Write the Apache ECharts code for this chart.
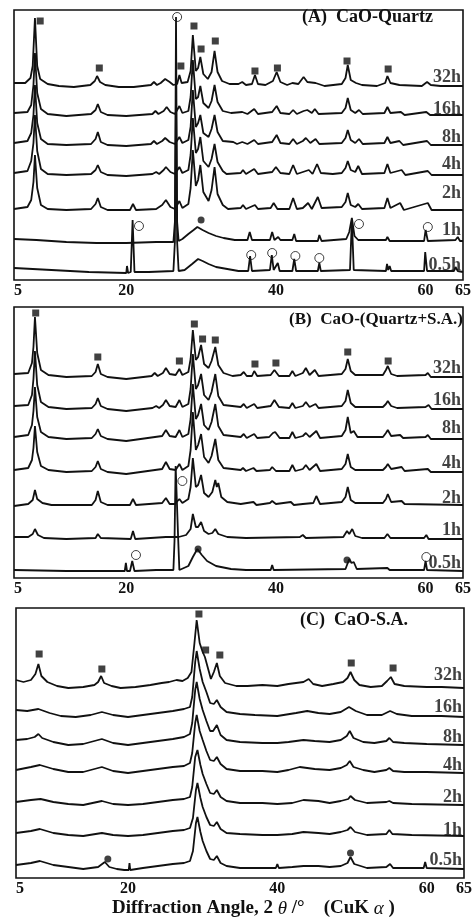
<!DOCTYPE html>
<html>
<head>
<meta charset="utf-8">
<script src="https://cdn.jsdelivr.net/npm/echarts@6/dist/echarts.min.js"></script>
<style>
  html, body { margin: 0; padding: 0; background: #fff; }
  #xrd { width: 475px; height: 918px; }
</style>
</head>
<body>
<div id="xrd"></div>
<script>
// reaction times, top trace first
const hours = ['32h', '16h', '8h', '4h', '2h', '1h', '0.5h'];
const tickValues = [5, 20, 40, 60, 65];

// (A) CaO-Quartz : [2theta, intensity above own baseline]
const a32 = [[5,3],[6.5,3],[7.2,8],[7.5,20],[7.8,68],[8.1,20],[8.5,7],[9.5,2],[11,0],[13,-1],[15.2,1],[15.8,5],[16.1,10],[16.5,4],[17.2,1],[19,-1],[21,-1],[23.3,1],[23.7,4],[24.1,1],[24.6,3],[25.2,7],[25.8,4],[26.3,1],[26.8,2],[27.1,11],[27.4,3],[28.2,4],[28.6,15],[28.9,51],[29.3,15],[29.6,18],[29.9,29],[30.3,12],[30.9,7],[31.4,14],[31.8,35],[32.2,14],[32.8,5],[33.8,2],[35,2],[35.5,4],[36,1],[36.8,2],[37.2,11],[37.6,2],[38.6,1],[39.6,5],[40.1,14],[40.6,4],[41.5,1],[42.2,3],[43,2],[43.7,9],[44.2,4],[45.3,3],[46.5,0],[48.8,2],[49.3,8],[49.6,21],[50,6],[50.7,3],[51.5,1],[53.5,0],[54.6,3],[54.9,10],[55.3,3],[56.5,1],[59.5,0],[60.2,4],[60.7,1],[62,0],[65,0]];
const a16 = [[5,2],[6.8,3],[7.3,10],[7.6,30],[7.8,62],[8.1,22],[8.6,6],[9.5,1],[12,-1],[15.3,1],[15.9,5],[16.2,11],[16.6,3],[17.5,0],[20,-1],[23.5,1],[23.9,4],[24.3,1],[25,4],[25.4,8],[25.9,3],[26.5,1],[27.1,9],[27.5,2],[28.3,4],[28.6,18],[28.9,55],[29.3,16],[29.6,18],[29.9,29],[30.3,12],[31,7],[31.4,14],[31.8,30],[32.2,13],[32.9,4],[34,2],[35.5,3],[36.2,1],[37.1,6],[37.6,1],[39.5,3],[40.1,9],[40.6,2],[41.8,1],[42.3,5],[42.8,1],[43.7,4],[44.2,5],[44.8,2],[45.2,6],[45.7,1],[48.8,2],[49.3,7],[49.6,17],[50,5],[50.6,2],[51.1,5],[51.6,1],[54.5,2],[54.9,8],[55.3,2],[56.7,3],[57.2,0],[60.1,3],[60.6,0],[65,0]];
const a8 = [[5,2],[6.8,4],[7.3,12],[7.6,30],[7.8,60],[8.1,22],[8.6,6],[9.5,1],[12,0],[15.3,1],[15.9,6],[16.2,13],[16.6,3],[17.5,0],[20,-1],[23.3,1],[23.7,4],[24.1,1],[24.8,4],[25.2,7],[25.8,3],[26.5,1],[27.1,8],[27.5,2],[28.3,5],[28.6,18],[28.9,55],[29.3,18],[29.6,22],[29.9,30],[30.3,12],[31,8],[31.4,16],[31.8,30],[32.2,13],[32.9,4],[34.3,3],[34.8,1],[35.5,3],[36.2,1],[37.1,5],[37.6,1],[39.5,3],[40.1,10],[40.6,2],[41.8,1],[42.3,6],[42.8,1],[43.6,4],[44,7],[44.6,2],[45.3,6],[45.8,1],[48.8,2],[49.3,7],[49.6,15],[50,5],[50.6,2],[51.1,6],[51.6,1],[54.5,2],[54.9,8],[55.3,2],[56.5,4],[57,0],[60.2,4],[60.7,0],[65,0]];
const a4 = [[5,2],[6.8,4],[7.3,14],[7.6,32],[7.8,60],[8.1,24],[8.6,6],[9.5,1],[12,0],[15.3,1],[15.9,5],[16.2,10],[16.6,3],[17.5,0],[20,-1],[23.5,1],[24,3],[24.4,1],[25,5],[25.3,8],[25.9,3],[26.5,1],[27.1,8],[27.5,2],[28.3,5],[28.6,20],[28.9,57],[29.3,22],[29.6,26],[29.9,38],[30.3,14],[31,8],[31.4,16],[31.8,31],[32.2,13],[32.9,4],[33.4,1],[35.3,2],[35.6,5],[36,1],[37.1,6],[37.6,1],[39.5,3],[40,8],[40.6,2],[41.8,1],[42.3,10],[42.8,1],[43.6,3],[44.4,5],[44.9,1],[45.5,11],[46,2],[47.6,1],[48.8,2],[49.3,7],[49.6,14],[50,5],[50.6,3],[51,9],[51.5,1],[54.5,2],[54.9,11],[55.3,2],[56.8,5],[57.3,0],[60.3,4],[60.8,0],[65,0]];
const a2 = [[5,1],[6.8,3],[7.3,10],[7.6,28],[7.8,55],[8.1,22],[8.6,5],[9.5,1],[12,0],[15.3,1],[15.9,6],[16.2,12],[16.6,3],[17.5,0],[20.5,0],[20.9,6],[21.3,0],[24,1],[24.8,5],[25.3,10],[25.9,3],[26.5,1],[27.1,9],[27.5,2],[28.3,6],[28.6,22],[28.9,60],[29.3,24],[29.6,30],[29.9,45],[30.3,18],[31,9],[31.4,20],[31.8,43],[32.2,16],[32.9,5],[33.6,1],[35.3,2],[35.6,5],[36,1],[37.2,5],[37.6,1],[39.3,2],[39.7,7],[40.2,1],[41.8,1],[42.3,12],[42.8,1],[43.6,2],[44.3,7],[44.8,1],[45.6,13],[46.1,2],[48.8,3],[49.3,8],[49.6,17],[50,5],[50.6,3],[51,6],[51.5,1],[54.5,2],[54.9,12],[55.3,2],[56.6,7],[57.1,0],[60.3,7],[60.8,0],[65,0]];
const a1 = [[5,3],[8,2],[12,0],[16,-1],[20,-1],[24,0],[26.3,0],[26.5,20],[26.65,150],[26.8,20],[27,1],[27.5,3],[28.3,8],[29,12],[29.5,15],[30.2,12],[31,9],[32,6],[33,4],[34.5,2],[36.2,2],[36.5,10],[36.8,2],[39.2,2],[39.5,10],[39.8,2],[40.3,5],[40.6,2],[42.2,2],[42.45,8],[42.7,1],[45.6,1],[45.8,7],[46.1,1],[49.4,3],[49.8,10],[50.15,24],[50.5,6],[51,2],[54.7,2],[54.9,5],[55.2,1],[59.8,1],[60,12],[60.3,1],[64,2],[64.3,5],[64.6,1],[65,1]];
const a05 = [[5,4],[10,2],[15,0],[20,-1],[20.1,6],[20.25,-1],[20.6,0],[20.85,52],[21.1,0],[23,0],[26.3,1],[26.5,30],[26.65,255],[26.8,30],[27,1],[27.8,2],[28.8,8],[29.6,13],[30.2,11],[31,8],[32,5],[33.5,3],[35,1],[36.3,1],[36.55,16],[36.8,1],[39.2,2],[39.45,17],[39.7,2],[40.25,9],[40.5,1],[42.2,1],[42.45,13],[42.7,1],[45.6,1],[45.8,9],[46,1],[49.9,2],[50.15,52],[50.4,2],[54.7,1],[54.85,8],[55,2],[55.2,6],[55.4,1],[59.8,1],[59.95,20],[60.2,1],[63.8,1],[64,5],[64.3,1],[65,0]];
const offsetsA = [194, 165, 135, 105, 70, 38, 8];

// (B) CaO-(Quartz+S.A.)
const b32 = [[5,3],[6.9,4],[7.4,14],[7.6,30],[7.8,60],[8.1,24],[8.6,7],[9.6,2],[12,0],[15.4,1],[15.9,5],[16.2,13],[16.6,3],[17.5,0],[20,-2],[23.4,1],[23.8,4],[24.2,1],[24.9,4],[25.3,9],[25.8,3],[26.6,2],[27.1,8],[27.5,2],[28.3,5],[28.6,18],[28.9,47],[29.3,17],[29.6,20],[30,32],[30.4,13],[31,9],[31.4,16],[31.9,30],[32.3,12],[33,4],[34.2,1],[35.3,2],[35.7,5],[36.1,1],[36.8,1],[37.1,6],[37.5,1],[39.3,2],[39.8,7],[40.4,1],[41.8,1],[42.2,6],[42.6,1],[43.6,4],[44,9],[44.5,2],[45.2,7],[45.7,1],[48.8,3],[49.3,8],[49.6,18],[50,6],[50.6,2],[54.3,2],[54.7,7],[54.95,11],[55.4,3],[56.2,1],[60,2],[60.3,4],[60.7,0],[65,0]];
const b16 = [[5,3],[6.9,4],[7.4,14],[7.6,30],[7.8,58],[8.1,24],[8.6,7],[9.6,2],[12,0],[15.4,1],[15.9,5],[16.2,11],[16.6,3],[17.5,0],[20,-2],[23.5,1],[24,3],[24.4,1],[24.9,4],[25.3,9],[25.8,3],[26.6,2],[27.1,9],[27.5,2],[28.3,5],[28.6,20],[28.9,55],[29.3,20],[29.6,24],[30,35],[30.4,14],[31,9],[31.4,17],[31.9,35],[32.3,13],[33,4],[35.3,2],[35.7,5],[36.1,1],[37.1,5],[37.5,1],[39.3,3],[39.8,9],[40.4,2],[41.8,1],[42.2,6],[42.6,1],[43.6,3],[44,7],[44.5,2],[45.3,5],[45.7,1],[48.8,3],[49.3,8],[49.6,19],[50,6],[50.6,2],[54.3,2],[54.7,5],[54.95,8],[55.4,3],[56.2,1],[60,2],[60.4,4],[60.8,0],[65,0]];
const b8 = [[5,2],[6.9,4],[7.4,14],[7.6,28],[7.8,52],[8.1,22],[8.6,7],[9.6,2],[12,0],[15.4,1],[15.9,5],[16.2,10],[16.6,3],[17.5,0],[20,-2],[24.8,3],[25.3,9],[25.8,3],[26.6,2],[27.1,9],[27.5,2],[28.3,5],[28.6,20],[28.9,55],[29.3,20],[29.6,24],[30,35],[30.4,14],[31,9],[31.4,17],[31.9,35],[32.3,13],[33,4],[35.3,2],[35.7,5],[36.1,1],[37.1,5],[37.5,1],[39.1,2],[39.6,6],[39.9,7],[40.5,1],[41.8,1],[42.2,7],[42.6,1],[43.6,3],[44,6],[44.5,2],[45.4,8],[45.9,1],[48.8,3],[49.3,9],[49.6,22],[50,6],[50.4,8],[50.9,2],[54.3,2],[54.7,6],[54.95,9],[55.4,3],[56.6,4],[57,1],[60,2],[60.3,4],[60.7,0],[65,0]];
const b4 = [[5,2],[6.9,4],[7.4,12],[7.6,24],[7.8,46],[8.1,20],[8.6,6],[9.6,2],[12,0],[15.4,1],[15.9,5],[16.2,11],[16.6,3],[17.5,0],[20,-2],[24.8,3],[25.3,10],[25.8,3],[26.6,2],[27.1,8],[27.5,2],[28.3,6],[28.6,22],[28.9,60],[29.3,22],[29.6,27],[30,38],[30.4,15],[31,9],[31.4,16],[31.9,33],[32.3,12],[33,4],[35.3,2],[35.6,4],[36,1],[37,4],[37.4,1],[39.2,2],[39.5,5],[40,1],[41.8,1],[42.2,7],[42.6,1],[43.6,3],[44,7],[44.5,2],[45.4,8],[45.9,1],[48.8,3],[49.3,8],[49.6,18],[50,5],[50.6,2],[54.3,2],[54.7,5],[54.95,8],[55.4,3],[56.8,5],[57.2,1],[60.3,3],[60.7,0],[65,0]];
const b2 = [[5,-1],[6.9,1],[7.5,5],[7.8,15],[8.1,6],[8.8,2],[10,0],[15.4,0],[15.9,5],[16.2,14],[16.6,3],[17.5,0],[20.5,0],[20.9,6],[21.3,0],[24.8,2],[25.3,7],[25.8,1],[26.5,1],[27.1,6],[27.5,2],[28.3,6],[28.6,18],[28.9,47],[29.3,18],[29.6,20],[30,30],[30.4,12],[31,8],[31.5,13],[31.9,25],[32.1,18],[32.3,22],[32.7,8],[33.5,3],[35.3,1],[37,3],[37.4,0],[39.2,2],[39.5,4],[40,1],[42,3],[42.4,0],[43.6,1],[45,2],[45.4,9],[45.9,1],[48.8,3],[49.3,8],[49.6,18],[50,5],[50.6,2],[54.3,2],[54.7,6],[54.95,11],[55.4,3],[56.8,4],[57.2,1],[65,0]];
const b1 = [[5,2],[6.9,2],[7.5,5],[7.8,10],[8.2,4],[9,1],[12,0],[15.9,1],[16.2,5],[16.6,1],[20.6,0],[20.9,8],[21.2,0],[25.3,2],[27,2],[28,4],[28.6,10],[28.9,25],[29.3,12],[29.6,12],[30,17],[30.4,8],[31,5],[31.5,6],[31.9,10],[32.3,5],[33.5,2],[36,1],[43.2,2],[43.6,4],[44,1],[49,2],[49.5,8],[49.8,5],[50.2,10],[50.6,3],[51.5,1],[54.5,1],[54.9,5],[55.3,1],[59.8,1],[60.1,4],[60.4,0],[65,0]];
const b05 = [[5,1],[12,0],[19.8,0],[19.95,8],[20.1,0],[20.5,0],[20.8,10],[21.1,0],[24,1],[26.3,1],[26.45,30],[26.6,105],[26.8,105],[26.95,30],[27.1,1],[28.3,5],[28.9,14],[29.5,22],[30.1,16],[30.8,10],[32,5],[34,2],[36,1],[39.3,1],[39.5,6],[39.7,1],[49.3,2],[49.8,12],[50.1,8],[50.4,9],[50.8,2],[54.9,3],[55.2,1],[59.8,1],[60,10],[60.2,1],[65,0]];
const offsetsB = [201, 169, 139, 106, 73, 39, 7];

// (C) CaO-S.A.
const c32 = [[5,8],[6,6],[7,8],[7.6,14],[8,24],[8.4,12],[9.2,6],[10.5,2],[12,0],[14,1],[15.5,3],[16,6],[16.4,12],[16.8,5],[17.8,2],[19,0],[21,1],[23,3],[24.5,5],[25.5,6],[26.5,8],[27.3,7],[28,10],[28.5,16],[28.9,45],[29.2,68],[29.6,45],[30,36],[30.3,31],[30.7,20],[31.1,9],[31.5,16],[31.9,25],[32.3,12],[33,5],[34.5,2],[36,2],[38,3],[40,2],[41.5,4],[43.5,6],[44.2,9],[44.8,4],[46,2],[47.5,4],[48.8,6],[49.4,10],[49.8,16],[50.3,8],[51,3],[52.5,1],[54,2],[54.7,7],[55.2,11],[55.7,4],[57,2],[60,1],[62,1],[65,0]];
const c16 = [[5,7],[6.5,6],[8,8],[9.5,4],[11,1],[13,0],[15,2],[16.5,5],[18,2],[20,0],[22,2],[24,4],[26,6],[27.5,8],[28.3,10],[28.6,20],[29,55],[29.2,66],[29.6,48],[30,35],[30.5,25],[31,14],[31.5,13],[31.9,17],[32.4,10],[33.2,5],[35,3],[37,2],[40,1],[42.5,4],[44,6],[45.5,4],[47,3],[48.5,5],[49.6,10],[50.5,6],[52,2],[54,2],[55.1,6],[56,3],[58,1],[62,1],[65,0]];
const c8 = [[5,5],[6.5,6],[7.5,8],[8,11],[8.5,7],[10,3],[12,0],[14,1],[16.5,6],[18,2],[20,0],[22,2],[24,4],[26,6],[27.5,8],[28.3,11],[28.6,22],[29,55],[29.2,63],[29.6,46],[30,35],[30.5,24],[31,14],[31.4,14],[31.9,20],[32.4,10],[33.2,5],[35,3],[38,2],[40,2],[41.5,3],[43.5,5],[45,4],[47,3],[48.5,5],[49.3,9],[49.7,14],[50.2,7],[51.5,3],[53,2],[54.6,4],[55,7],[55.5,3],[57,2],[60,1],[65,0]];
const c4 = [[5,3],[7,6],[8.2,8],[10,4],[12,1],[14,1],[16.5,6],[18,2],[20,0],[22,2],[24,4],[26,6],[27.5,7],[28.3,10],[28.6,20],[29,50],[29.2,58],[29.6,42],[30,33],[30.5,22],[31,13],[31.5,12],[31.9,16],[32.4,9],[33.2,4],[35,2],[38,2],[40,1],[41.5,3],[43,6],[45,4],[47,3],[48.5,5],[49.3,8],[49.7,12],[50.2,6],[51.5,3],[53,1],[54.6,3],[55,5],[55.5,2],[57,1],[60,1],[65,0]];
const c2 = [[5,3],[7,5],[8.3,6],[10,3],[12,1],[14,0],[16.5,4],[18,1],[20,0],[22,1],[24,3],[26,5],[27.5,6],[28.3,8],[28.6,18],[29,48],[29.3,55],[29.7,40],[30,31],[30.5,21],[31,12],[31.5,11],[31.9,15],[32.4,8],[33.2,4],[35,2],[38,2],[40,1],[42,2],[43.5,5],[45.5,4],[47,2],[48.5,4],[49.5,6],[49.8,9],[50.4,5],[52,2],[54.6,3],[55,4],[55.5,2],[58,1],[65,0]];
const c1 = [[5,3],[7,5],[8.2,7],[10,3],[12,1],[14,0],[16.5,3],[18,1],[20,0],[22,1],[24,3],[26,5],[27.5,6],[28.3,8],[28.7,18],[29.1,46],[29.3,53],[29.7,38],[30,29],[30.5,19],[31,11],[31.5,10],[31.9,14],[32.4,7],[33.2,3],[35,2],[38,1],[40,1],[42,2],[43.5,4],[45.5,3],[47,2],[48.5,4],[49.4,6],[49.8,9],[50.4,4],[52,1],[54.6,2],[55,6],[55.4,2],[58,1],[65,0]];
const c05 = [[5,4],[7,6],[8.2,8],[10,4],[12,2],[14,0],[16,2],[16.9,7],[17.5,2],[18.5,0],[19.5,-1],[20.1,-1],[20.2,6],[20.3,-1],[22,1],[24,3],[26,5],[27.5,6],[28.3,8],[28.7,18],[29.1,46],[29.3,52],[29.7,37],[30,28],[30.5,18],[31,10],[31.5,9],[31.9,13],[32.4,6],[33.2,3],[35,1],[38,1],[39.8,1],[40,5],[40.2,1],[42,2],[43.5,3],[45.5,3],[47,2],[48.5,3],[49.4,6],[49.8,12],[50.3,5],[52,1],[54.6,2],[55.1,5],[55.5,1],[59.6,1],[59.8,7],[60,1],[65,0]];
const offsetsC = [190, 161, 133, 105, 73, 42, 9];

// phase markers [2theta, height in panel units]
const squaresA = [[8.5,259],[16.4,212],[27.3,214],[29.05,254],[30.0,231],[31.9,239],[37.2,209],[40.2,212],[49.5,219],[55.0,211]];
const circlesA = [[26.8,263],[21.7,54],[36.7,25],[39.5,27],[42.6,24],[45.8,22],[51.1,56],[60.3,53]];
const dotsA = [[30.0,60]];
const squaresB = [[7.9,265],[16.2,221],[27.1,217],[29.1,254],[30.2,239],[31.9,238],[37.2,214],[40.0,215],[49.6,226],[55.0,217]];
const circlesB = [[27.5,97],[21.3,23],[60.1,21]];
const dotsB = [[29.6,29],[49.5,18]];
const squaresC = [[8.1,224],[16.5,209],[29.5,264],[30.4,228],[32.3,223],[49.9,215],[55.5,210]];
const circlesC = [];
const dotsC = [[17.3,19],[49.8,25]];

// height of each time label, panel units
const labelYA = [203, 171, 143, 116, 87, 50, 15];
const labelYB = [210, 178, 150, 115, 80, 48, 15];
const labelYC = [203, 171, 141, 113, 81, 48, 18];

const serif = "'Liberation Serif', 'DejaVu Serif', serif";

const panels = [
  { traces: [a32, a16, a8, a4, a2, a1, a05], offsets: offsetsA, squares: squaresA, circles: circlesA, dots: dotsA, labelY: labelYA },
  { traces: [b32, b16, b8, b4, b2, b1, b05], offsets: offsetsB, squares: squaresB, circles: circlesB, dots: dotsB, labelY: labelYB },
  { traces: [c32, c16, c8, c4, c2, c1, c05], offsets: offsetsC, squares: squaresC, circles: circlesC, dots: dotsC, labelY: labelYC }
];

const chartDom = document.getElementById('xrd');
const myChart = echarts.init(chartDom);

const grids = [
  { left: 14, right: 12, top: 10, height: 270 },
  { left: 14, right: 12, top: 307, height: 271 },
  { left: 16, right: 10, top: 608, height: 270 }
].map(function (g) {
  return Object.assign({ show: true, borderColor: '#111', borderWidth: 1.6, backgroundColor: 'transparent' }, g);
});

const xAxes = grids.map(function (g, i) {
  return {
    type: 'value', gridIndex: i, min: 5, max: 65,
    axisLine: { show: false }, axisTick: { show: false }, splitLine: { show: false },
    axisLabel: {
      customValues: tickValues, alignMinLabel: 'left',
      fontFamily: serif, fontWeight: 'bold', fontSize: 16, color: '#111', margin: 3
    }
  };
});

const yAxes = grids.map(function (g, i) {
  return { type: 'value', gridIndex: i, min: 0, max: g.height, show: false };
});

let series = [];
panels.forEach(function (p, i) {
  p.traces.forEach(function (tr, k) {
    series.push({
      type: 'line', xAxisIndex: i, yAxisIndex: i, name: hours[k],
      symbol: 'none', silent: true,
      lineStyle: { color: '#111', width: 1.8 },
      data: tr.map(function (d) { return [d[0], p.offsets[k] + d[1]]; })
    });
  });
  series.push({
    type: 'scatter', xAxisIndex: i, yAxisIndex: i, symbol: 'rect', symbolSize: 7,
    itemStyle: { color: '#111' }, data: p.squares
  });
  series.push({
    type: 'scatter', xAxisIndex: i, yAxisIndex: i, symbol: 'circle', symbolSize: 9,
    itemStyle: { color: '#fff', borderColor: '#111', borderWidth: 1 }, data: p.circles
  });
  series.push({
    type: 'scatter', xAxisIndex: i, yAxisIndex: i, symbol: 'circle', symbolSize: 7,
    itemStyle: { color: '#111' }, data: p.dots
  });
  series.push({
    type: 'scatter', xAxisIndex: i, yAxisIndex: i, symbolSize: 0,
    label: {
      show: true, position: 'left', distance: 2,
      formatter: function (q) { return q.data[2]; },
      fontFamily: serif, fontWeight: 'bold', fontSize: 18, color: '#111'
    },
    data: p.labelY.map(function (v, k) { return [65, v, hours[k]]; })
  });
});

function titleText(txt, size) {
  return { text: txt, fontFamily: serif, fontWeight: 'bold', fontSize: size, fill: '#111' };
}

const option = {
  animation: false,
  backgroundColor: '#fff',
  grid: grids,
  xAxis: xAxes,
  yAxis: yAxes,
  series: series,
  graphic: [
    { type: 'text', left: 302, top: 8, style: titleText('(A)  CaO-Quartz', 18) },
    { type: 'text', left: 289, top: 311, style: titleText('(B)  CaO-(Quartz+S.A.)', 17) },
    { type: 'text', left: 300, top: 611, style: titleText('(C)  CaO-S.A.', 18) },
    {
      type: 'text', left: 112, top: 899,
      style: {
        text: 'Diffraction Angle, 2 {i|θ} /°    (CuK {i|α} )',
        fontFamily: serif, fontWeight: 'bold', fontSize: 19, fill: '#111',
        rich: { i: { fontFamily: serif, fontStyle: 'italic', fontWeight: 'normal', fontSize: 19, fill: '#111' } }
      }
    }
  ]
};

option && myChart.setOption(option);
window.addEventListener('resize', function () {
  myChart.resize();
});
</script>
</body>
</html>
